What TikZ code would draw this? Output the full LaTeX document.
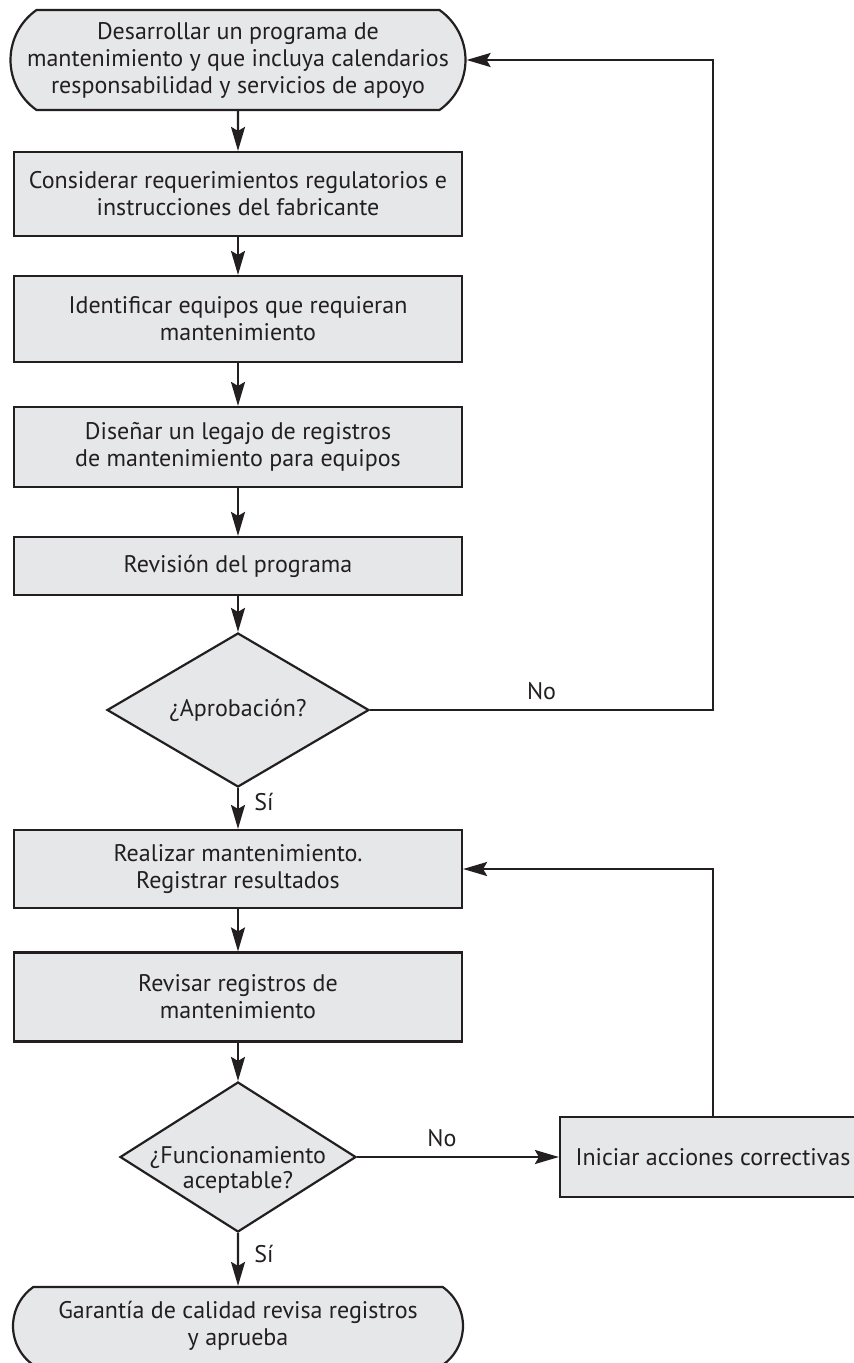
\documentclass[tikz,border=0pt]{standalone}
\usepackage{fontspec}
\setmainfont{PT Sans}
\usetikzlibrary{arrows.meta,shapes.geometric,shapes.misc}
\definecolor{boxgray}{HTML}{E6E7E8}
\definecolor{inkgray}{HTML}{231F20}

\begin{document}
\begin{tikzpicture}[x=1pt,y=-1pt,
    base/.style={draw=inkgray,fill=boxgray,line width=2.2pt,text=inkgray,
      font=\fontsize{24}{27}\selectfont,align=center,inner sep=0pt},
    procbox/.style={base,rectangle,minimum width=448pt},
    termbox/.style={base,rounded rectangle,rounded rectangle arc length=110,minimum width=455pt},
    askbox/.style={base,diamond,inner xsep=-60pt,inner ysep=-20pt},
    flow/.style={draw=inkgray,line width=2.2pt,-{Stealth[length=24pt,width=14pt,inset=4pt]}},
    lbl/.style={text=inkgray,font=\fontsize{24}{27}\selectfont}]
    \useasboundingbox (0,0) rectangle (854,1363);
    \clip (0,0) rectangle (854,1363);

    % main column
    \node[termbox,minimum height=100pt] (start) at (238,60) {Desarrollar un programa de\\mantenimiento y que incluya calendarios\\responsabilidad y servicios de apoyo};
    \node[procbox,minimum height=84pt] (rules) at (238,194) {Considerar requerimientos regulatorios e\\instrucciones del fabricante};
    \node[procbox,minimum height=86pt] (equip) at (238,319) {Identificar equipos que requieran\\mantenimiento};
    \node[procbox,minimum height=80pt] (legajo) at (238,447) {Diseñar un legajo de registros\\de mantenimiento para equipos};
    \node[procbox,minimum height=58pt] (review) at (238,566) {Revisión del programa};
    \node[askbox,minimum width=262pt,minimum height=154pt] (approve) at (238,710) {¿Aprobación?};
    \node[procbox,minimum height=78pt] (perform) at (238,869) {Realizar mantenimiento.\\Registrar resultados};
    \node[procbox,minimum height=89pt] (records) at (238,997) {Revisar registros de\\mantenimiento};
    \node[askbox,minimum width=236pt,minimum height=150pt,
      label={[lbl,align=center,yshift=-13pt,font=\fontsize{24}{25}\selectfont]center:¿Funcionamiento\\aceptable?}] (works) at (238,1157) {};
    \node[termbox,minimum height=78pt,minimum width=450pt] (finish) at (238,1326) {Garantía de calidad revisa registros\\y aprueba};
    % side branch
    \node[procbox,minimum width=306pt,minimum height=80pt] (fix) at (713,1157) {Iniciar acciones correctivas};
    \coordinate (back) at (713,710);

    % connectors
    \draw[flow] (start) -- (rules);
    \draw[flow] (rules) -- (equip);
    \draw[flow] (equip) -- (legajo);
    \draw[flow] (legajo) -- (review);
    \draw[flow] (review) -- (approve);
    \draw[flow] (approve) -- node[lbl,right=12pt,pos=0.35] {Sí} (perform);
    \draw[flow] (perform) -- (records);
    \draw[flow] (records) -- (works);
    \draw[flow] (works) -- node[lbl,right=12pt,pos=0.4] {Sí} (finish);
    \draw[flow] (approve.east) -- node[lbl,above=6pt] {No} (back) |- (start.east);
    \draw[flow] (works.east) -- node[lbl,above=6pt,pos=0.42] {No} (fix.west);
    \draw[flow] (fix.north) |- (perform.east);
\end{tikzpicture}
\end{document}
